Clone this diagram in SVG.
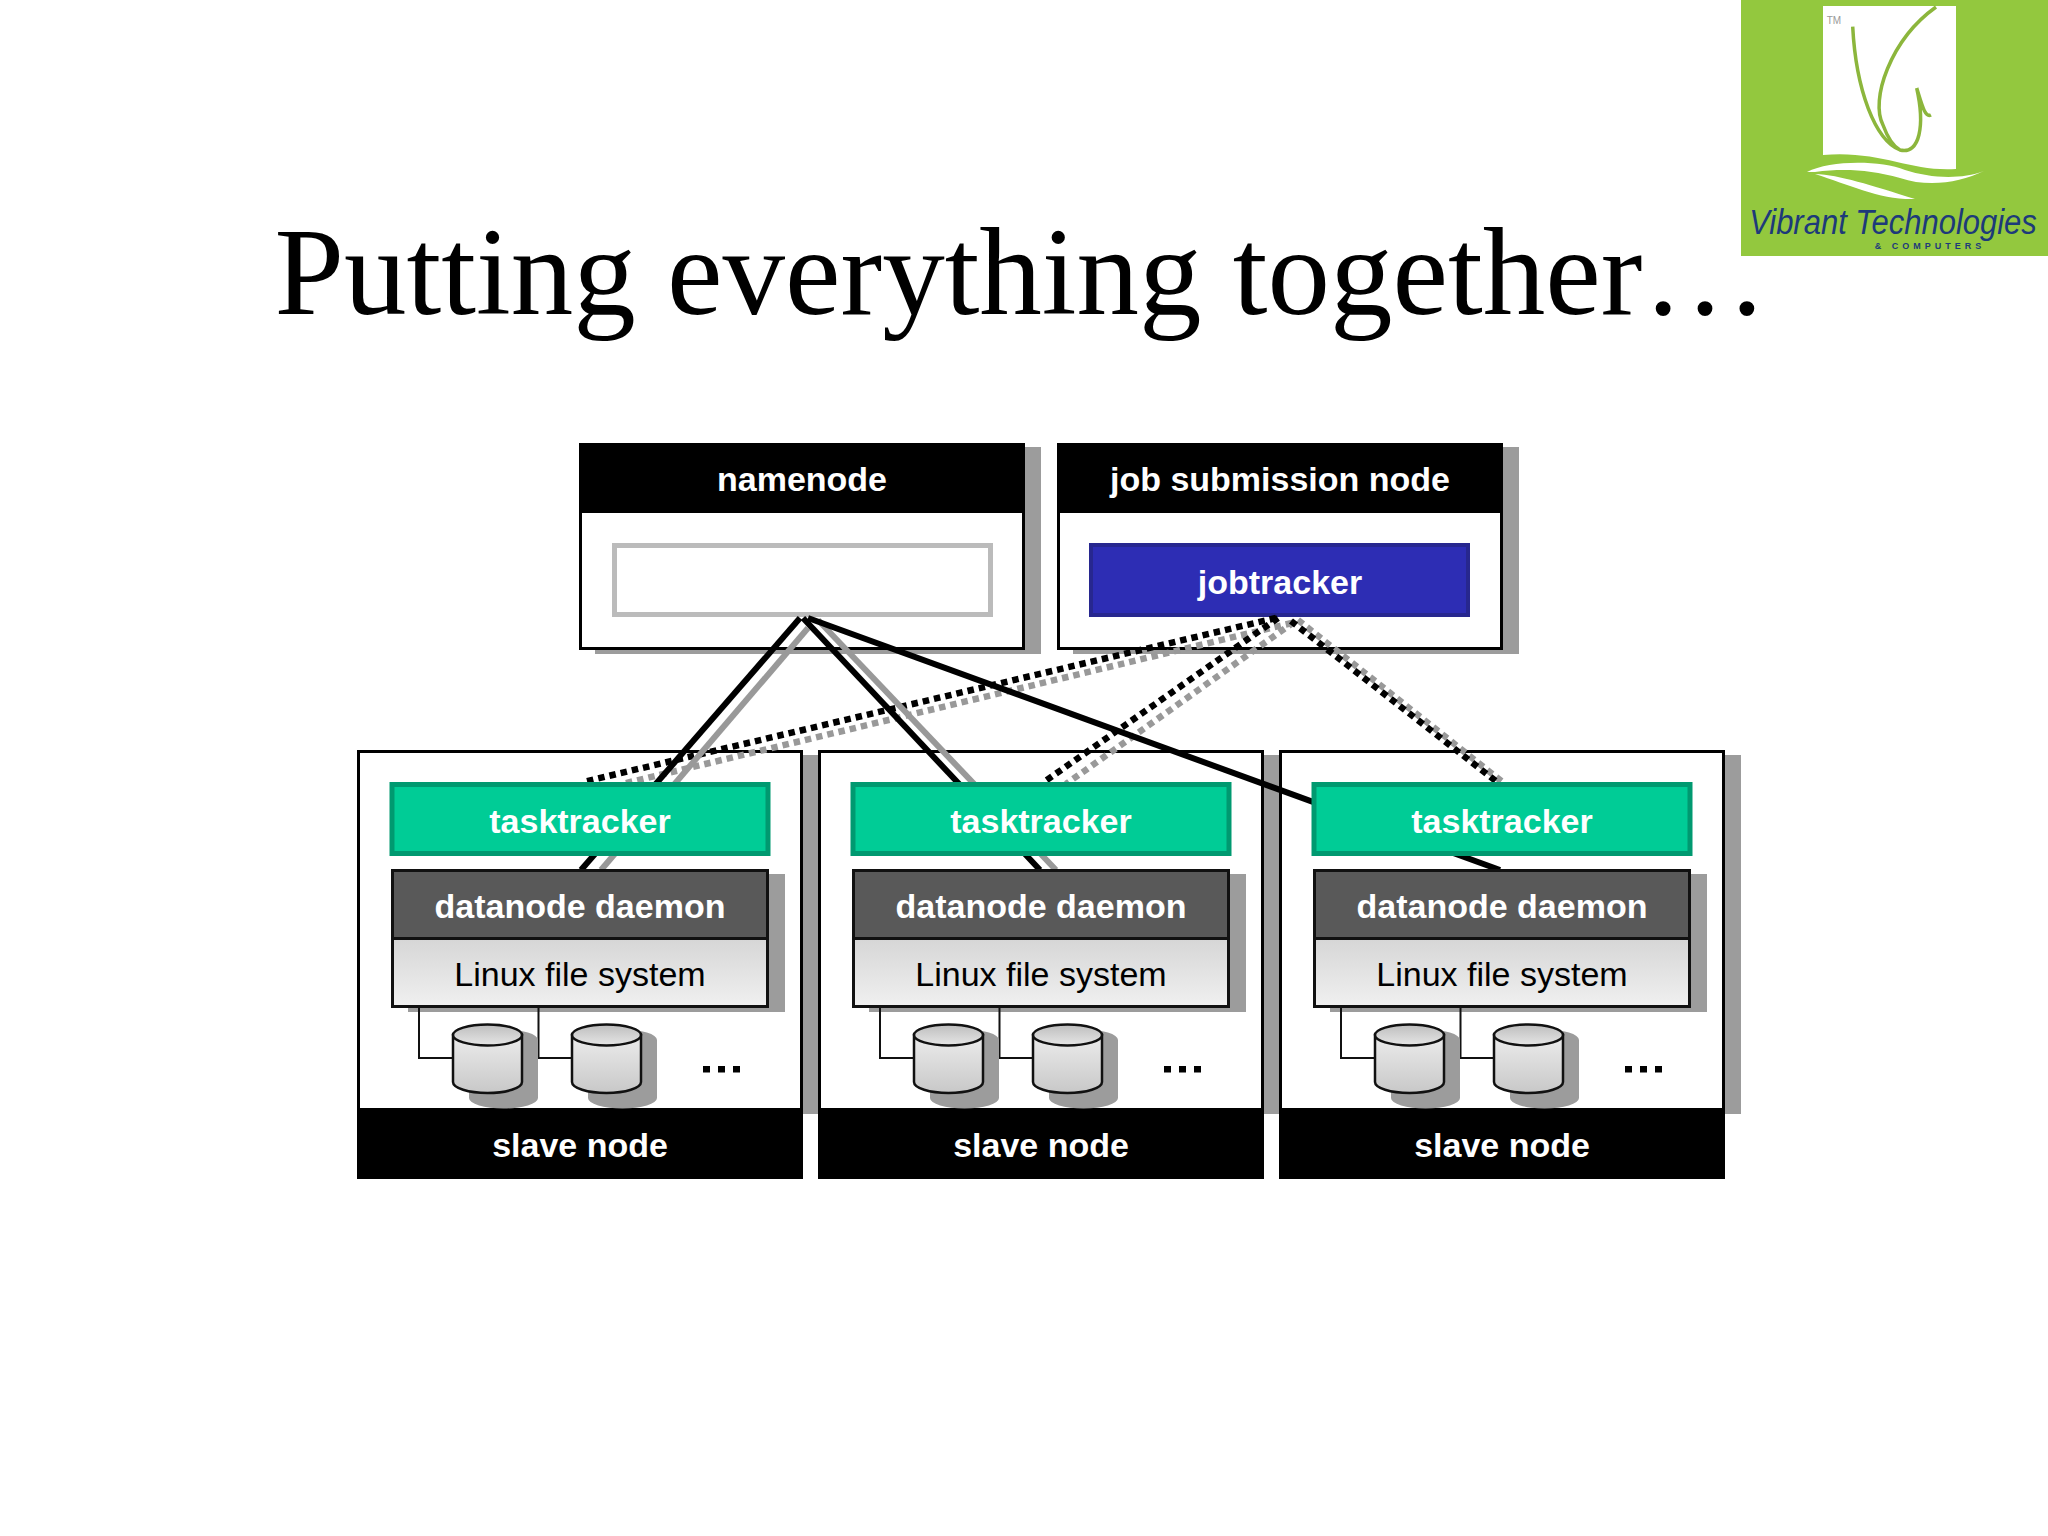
<svg xmlns="http://www.w3.org/2000/svg" xmlns:xlink="http://www.w3.org/1999/xlink" width="2048" height="1536" viewBox="0 0 2048 1536">
<defs>
<style>
text{font-family:"Liberation Sans",Arial,sans-serif;font-size:34px;text-anchor:middle}
.w{fill:#fff;font-weight:bold}
.k{fill:#000}
.shadow{fill:#9c9c9c}
.frame{fill:#fff;stroke:#000;stroke-width:3}
.head{fill:#000}
.tt{fill:#00cc96;stroke:#009970;stroke-width:5}
.dn{fill:#595959;stroke:#111;stroke-width:3}
.fs{fill:url(#fsg);stroke:#111;stroke-width:3}
.solid{fill:none;stroke-width:6}
.dot{fill:none;stroke-width:6.500;stroke-dasharray:6.500 5}
.b{stroke:#000}
.g{stroke:#999}
.wire{fill:none;stroke:#111;stroke-width:2}
.title{font-family:"Liberation Serif","Times New Roman",serif;font-size:125px}
</style>
<linearGradient id="fsg" x1="0" y1="0" x2="0" y2="1"><stop offset="0" stop-color="#d6d6d6"/><stop offset="1" stop-color="#f0f0f0"/></linearGradient>
<linearGradient id="cb" x1="0" y1="0" x2="0" y2="1"><stop offset="0" stop-color="#ececec"/><stop offset="1" stop-color="#c8c8c8"/></linearGradient>
<linearGradient id="ct" x1="0" y1="0" x2="0" y2="1"><stop offset="0" stop-color="#bdbdbd"/><stop offset="1" stop-color="#e6e6e6"/></linearGradient>
<g id="cyl">
<path class="shadow" d="M16 16 A34.500 10.500 0 0 1 85 16 V74 A34.500 10.500 0 0 1 16 74 Z"/>
<path d="M0 11 V58 A34.500 11 0 0 0 69 58 V11 Z" fill="url(#cb)" stroke="#111" stroke-width="2.500"/>
<ellipse cx="34.500" cy="11" rx="34.500" ry="10.500" fill="url(#ct)" stroke="#111" stroke-width="2.500"/>
</g>
<g id="dots" fill="#000"><rect x="0" y="0" width="7" height="6.500"/><rect x="15" y="0" width="7" height="6.500"/><rect x="30" y="0" width="7" height="6.500"/></g>
</defs>
<rect width="2048" height="1536" fill="#fff"/>

<g id="logo">
<rect x="1741" y="0" width="307" height="256" fill="#93c83e"/>
<path d="M1823 6 H1956 V169 C1910 172 1880 150 1823 155 Z" fill="#fff"/>
<path d="M1852.700 26.700 C1856 90 1875 140 1900 150 C1920 155 1925 125 1916.700 88 C1922 105 1925 118 1931 115 M1936 7 C1890 40 1870 100 1883 125 C1887 136 1893 146 1900 150" fill="none" stroke="#8cb63c" stroke-width="3.500"/>
<path d="M1807 172 C1830 160 1880 160 1905 170 C1930 178 1960 180 1984 171 C1960 182 1930 188 1900 178 C1870 170 1845 168 1815 172 Z M1815 174 C1840 175 1870 185 1915 199 C1880 200 1850 185 1815 174 Z" fill="#fff"/>
<text x="1834" y="24" style="font-size:10px;fill:#999">TM</text>
<text transform="translate(1893 234) scale(1 1.150)" x="0" y="0" style="font-size:31px;font-style:italic;fill:#1d3a7a">Vibrant Technologies</text>
<text x="1930" y="249" style="font-size:9px;font-weight:bold;fill:#1d3a7a;letter-spacing:4px">&amp; COMPUTERS</text>
</g>

<text class="title k" x="1021" y="314">Putting everything together…</text>

<g id="namenode">
<rect class="shadow" x="595" y="447" width="446" height="207"/>
<rect class="frame" x="580.500" y="444.500" width="443" height="204"/>
<rect class="head" x="579" y="443" width="446" height="70"/>
<text class="w" x="802" y="491">namenode</text>
<rect x="614.500" y="545.500" width="376" height="69" fill="#fff" stroke="#bbb" stroke-width="5"/>
</g>
<g id="job-submission-node">
<rect class="shadow" x="1073" y="447" width="446" height="207"/>
<rect class="frame" x="1058.500" y="444.500" width="443" height="204"/>
<rect class="head" x="1057" y="443" width="446" height="70"/>
<text class="w" x="1280" y="491">job submission node</text>
</g>
<g id="slave-1">
<rect class="shadow" x="373" y="755" width="445" height="359"/>
<rect class="frame" x="358.500" y="751.500" width="443" height="358"/>
<rect class="head" x="357" y="1109" width="446" height="70"/>
<text class="w" x="580" y="1157">slave node</text>
</g>
<g id="slave-2">
<rect class="shadow" x="834" y="755" width="445" height="359"/>
<rect class="frame" x="819.500" y="751.500" width="443" height="358"/>
<rect class="head" x="818" y="1109" width="446" height="70"/>
<text class="w" x="1041" y="1157">slave node</text>
</g>
<g id="slave-3">
<rect class="shadow" x="1295" y="755" width="446" height="359"/>
<rect class="frame" x="1280.500" y="751.500" width="443" height="358"/>
<rect class="head" x="1279" y="1109" width="446" height="70"/>
<text class="w" x="1502" y="1157">slave node</text>
</g>

<g id="jobtracker">
<rect x="1091" y="545" width="377" height="70" fill="#2d2db4" stroke="#27278f" stroke-width="4"/>
<text class="w" x="1280" y="594">jobtracker</text>
</g>

<g id="connectors">
<path class="dot g" d="M1292 623 L622 784"/>
<path class="dot g" d="M1294 622 L1066 784"/>
<path class="dot g" d="M1298 620 L1505 784"/>
<path class="dot b" d="M1276 618 L583 782"/>
<path class="dot b" d="M1278 618 L1044 782"/>
<path class="dot b" d="M1291 621 L1497 782"/>
<path class="solid g" d="M808 628 L601 870"/>
<path class="solid g" d="M818 620 L1056 870"/>
<path class="solid b" d="M800 618 L581 870"/>
<path class="solid b" d="M803 618 L1040 870"/>
<path class="solid b" d="M808 618 L1500 870"/>
</g>

<g id="tasktracker-1"><rect class="tt" x="392" y="784.500" width="376" height="69"/><text class="w" x="580" y="833">tasktracker</text></g>
<g id="tasktracker-2"><rect class="tt" x="853" y="784.500" width="376" height="69"/><text class="w" x="1041" y="833">tasktracker</text></g>
<g id="tasktracker-3"><rect class="tt" x="1314" y="784.500" width="376" height="69"/><text class="w" x="1502" y="833">tasktracker</text></g>

<g id="datanode-1">
<rect class="shadow" x="408" y="874" width="377" height="138"/>
<rect class="dn" x="392.500" y="870.500" width="375" height="68"/>
<rect class="fs" x="392.500" y="938.500" width="375" height="68"/>
<text class="w" x="580" y="918">datanode daemon</text>
<text class="k" x="580" y="986">Linux file system</text>
<path class="wire" d="M419 1007 V1058 H453 M538.500 1007 V1058 H572"/>
<use xlink:href="#cyl" href="#cyl" x="453" y="1024"/>
<use xlink:href="#cyl" href="#cyl" x="572" y="1024"/>
<use xlink:href="#dots" href="#dots" x="703" y="1066"/>
</g>
<g id="datanode-2">
<rect class="shadow" x="869" y="874" width="377" height="138"/>
<rect class="dn" x="853.500" y="870.500" width="375" height="68"/>
<rect class="fs" x="853.500" y="938.500" width="375" height="68"/>
<text class="w" x="1041" y="918">datanode daemon</text>
<text class="k" x="1041" y="986">Linux file system</text>
<path class="wire" d="M880 1007 V1058 H914 M999.500 1007 V1058 H1033"/>
<use xlink:href="#cyl" href="#cyl" x="914" y="1024"/>
<use xlink:href="#cyl" href="#cyl" x="1033" y="1024"/>
<use xlink:href="#dots" href="#dots" x="1164" y="1066"/>
</g>
<g id="datanode-3">
<rect class="shadow" x="1330" y="874" width="377" height="138"/>
<rect class="dn" x="1314.500" y="870.500" width="375" height="68"/>
<rect class="fs" x="1314.500" y="938.500" width="375" height="68"/>
<text class="w" x="1502" y="918">datanode daemon</text>
<text class="k" x="1502" y="986">Linux file system</text>
<path class="wire" d="M1341 1007 V1058 H1375 M1460.500 1007 V1058 H1494"/>
<use xlink:href="#cyl" href="#cyl" x="1375" y="1024"/>
<use xlink:href="#cyl" href="#cyl" x="1494" y="1024"/>
<use xlink:href="#dots" href="#dots" x="1625" y="1066"/>
</g>
</svg>
